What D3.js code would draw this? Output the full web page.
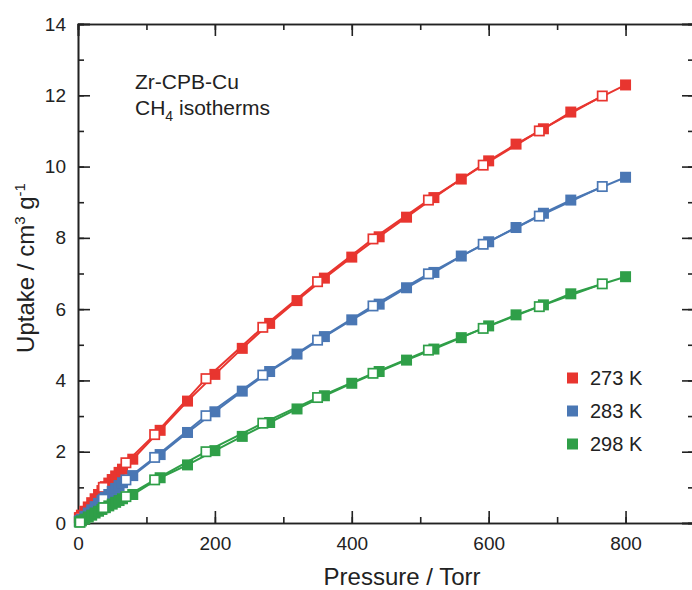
<!DOCTYPE html>
<html lang="en">
<head>
  <meta charset="utf-8">
  <title>Zr-CPB-Cu CH4 isotherms</title>
  <script src="https://d3js.org/d3.v7.min.js"></script>
  <style>
    body { margin: 0; background: #fff; }
    text { font-family: "Liberation Sans", Arial, sans-serif; fill: #222; }
  </style>
</head>
<body>
  <div id="chart"></div>
  <script>
    // Adsorption (filled squares): pressure in Torr, uptake in cm3/g
    var adsP = [2, 5, 10, 15, 20, 25, 30, 35, 40, 45, 50, 55, 60, 65, 80, 120, 160, 200, 240, 280,
                320, 360, 400, 440, 480, 520, 560, 600, 640, 680, 720, 800];
    var ads273 = [0.15, 0.22, 0.33, 0.45, 0.57, 0.68, 0.80, 0.91, 1.02, 1.12, 1.22, 1.32, 1.42, 1.51, 1.79, 2.60, 3.42, 4.17, 4.90, 5.60,
                  6.24, 6.87, 7.46, 8.03, 8.58, 9.13, 9.65, 10.16, 10.63, 11.06, 11.53, 12.29];
    var ads283 = [0.05, 0.10, 0.19, 0.28, 0.37, 0.46, 0.55, 0.63, 0.72, 0.80, 0.89, 0.97, 1.05, 1.13, 1.33, 1.92, 2.54, 3.12, 3.70, 4.25,
                  4.74, 5.23, 5.70, 6.14, 6.60, 7.03, 7.49, 7.89, 8.29, 8.69, 9.06, 9.70];
    var ads298 = [0.03, 0.06, 0.11, 0.17, 0.22, 0.28, 0.33, 0.38, 0.43, 0.48, 0.53, 0.58, 0.63, 0.68, 0.80, 1.27, 1.63, 2.03, 2.43, 2.82,
                  3.20, 3.57, 3.92, 4.25, 4.57, 4.88, 5.20, 5.53, 5.84, 6.12, 6.43, 6.91];

    // Desorption (open squares)
    var desP = [3, 37, 70, 112, 187, 270, 350, 431, 512, 592, 674, 766];
    var des273 = [0.15, 1.00, 1.69, 2.48, 4.05, 5.49, 6.77, 7.97, 9.06, 10.04, 11.00, 11.98];
    var des283 = [0.07, 0.67, 1.21, 1.84, 3.01, 4.15, 5.13, 6.09, 6.99, 7.82, 8.61, 9.44];
    var des298 = [0.02, 0.43, 0.74, 1.21, 2.00, 2.80, 3.52, 4.20, 4.85, 5.46, 6.07, 6.71];

    var seriesNames = ["273 K", "283 K", "298 K"];
    var colors = ["#e8352f", "#4a77b4", "#2f9f48"];
    var xTicks = [0, 200, 400, 600, 800];
    var yTicks = [0, 2, 4, 6, 8, 10, 12, 14];

    var series = [
      {name: seriesNames[0], ads: ads273, des: des273},
      {name: seriesNames[1], ads: ads283, des: des283},
      {name: seriesNames[2], ads: ads298, des: des298}
    ];

    var margin = {top: 24, left: 78},
        width = 616,
        height = 499;

    var svg = d3.select("#chart")
      .append("svg")
      .attr("width", 692)
      .attr("height", 590);

    var g = svg.append("g")
      .attr("transform", "translate(" + margin.left + "," + margin.top + ")");

    var x = d3.scaleLinear().domain([0, 900]).range([0, width]);
    var y = d3.scaleLinear().domain([0, 14]).range([height, 0]);

    function styleAxis(sel) {
      sel.select(".domain").attr("stroke", "#222").attr("stroke-width", 1.6);
      sel.selectAll(".tick line").attr("stroke", "#222").attr("stroke-width", 1.6);
      sel.selectAll("text").attr("font-size", 19).attr("fill", "#222")
        .style("font-family", "'Liberation Sans', Arial, sans-serif");
    }

    var xMinor = d3.range(0, 901, 100);
    var yMinor = d3.range(0, 14.01, 1);

    // minor ticks on all four sides
    g.append("g").attr("transform", "translate(0," + height + ")")
      .call(d3.axisBottom(x).tickValues(xMinor).tickSize(-6).tickFormat(""))
      .call(styleAxis);
    g.append("g")
      .call(d3.axisTop(x).tickValues(xMinor).tickSize(-6).tickFormat(""))
      .call(styleAxis);
    g.append("g")
      .call(d3.axisLeft(y).tickValues(yMinor).tickSize(-6).tickFormat(""))
      .call(styleAxis);
    g.append("g").attr("transform", "translate(" + width + ",0)")
      .call(d3.axisRight(y).tickValues(yMinor).tickSize(-6).tickFormat(""))
      .call(styleAxis);

    // major ticks with labels
    g.append("g").attr("transform", "translate(0," + height + ")")
      .call(d3.axisBottom(x).tickValues(xTicks).tickSize(-12).tickPadding(14).tickFormat(d3.format("d")))
      .call(styleAxis);
    g.append("g")
      .call(d3.axisTop(x).tickValues(xTicks).tickSize(-12).tickFormat(""))
      .call(styleAxis);
    g.append("g")
      .call(d3.axisLeft(y).tickValues(yTicks).tickSize(-12).tickPadding(12).tickFormat(d3.format("d")))
      .call(styleAxis);
    g.append("g").attr("transform", "translate(" + width + ",0)")
      .call(d3.axisRight(y).tickValues(yTicks).tickSize(-12).tickFormat(""))
      .call(styleAxis);

    var line = d3.line()
      .x(function(d) { return x(d[0]); })
      .y(function(d) { return y(d[1]); });

    var sq = 11, sw = 1.7;

    series.forEach(function(s, i) {
      var ads = adsP.map(function(p, j) { return [p, s.ads[j]]; });
      var des = desP.map(function(p, j) { return [p, s.des[j]]; });

      g.append("path").datum(ads)
        .attr("d", line).attr("fill", "none")
        .attr("stroke", colors[i]).attr("stroke-width", 2);
      g.append("path").datum(des)
        .attr("d", line).attr("fill", "none")
        .attr("stroke", colors[i]).attr("stroke-width", 2);

      g.append("g").selectAll("rect").data(ads).enter().append("rect")
        .attr("x", function(d) { return x(d[0]) - sq / 2; })
        .attr("y", function(d) { return y(d[1]) - sq / 2; })
        .attr("width", sq).attr("height", sq)
        .attr("fill", colors[i]);

      g.append("g").selectAll("rect").data(des).enter().append("rect")
        .attr("x", function(d) { return x(d[0]) - (sq - sw) / 2; })
        .attr("y", function(d) { return y(d[1]) - (sq - sw) / 2; })
        .attr("width", sq - sw).attr("height", sq - sw)
        .attr("fill", "#fff")
        .attr("stroke", colors[i]).attr("stroke-width", sw);
    });

    // legend
    var legend = svg.append("g");
    seriesNames.forEach(function(name, i) {
      var ly = 378 + i * 33;
      legend.append("rect")
        .attr("x", 567).attr("y", ly - 5.5)
        .attr("width", 11).attr("height", 11)
        .attr("fill", colors[i]);
      legend.append("text")
        .attr("x", 590).attr("y", ly)
        .attr("dy", "0.36em")
        .attr("font-size", 20)
        .text(name);
    });

    // annotation
    svg.append("text")
      .attr("x", 135).attr("y", 89)
      .attr("font-size", 21)
      .text("Zr-CPB-Cu");
    var t2 = svg.append("text")
      .attr("x", 135).attr("y", 115)
      .attr("font-size", 21);
    t2.append("tspan").text("CH");
    t2.append("tspan").attr("font-size", 14).attr("dy", 6).text("4");
    t2.append("tspan").attr("dy", -6).text(" isotherms");

    // axis titles
    svg.append("text")
      .attr("x", 402).attr("y", 585)
      .attr("text-anchor", "middle")
      .attr("font-size", 24)
      .text("Pressure / Torr");

    var yt = svg.append("text")
      .attr("transform", "translate(34,268) rotate(-90)")
      .attr("text-anchor", "middle")
      .attr("font-size", 24);
    yt.append("tspan").text("Uptake / cm");
    yt.append("tspan").attr("font-size", 15).attr("dy", -9).text("3");
    yt.append("tspan").attr("dy", 9).text(" g");
    yt.append("tspan").attr("font-size", 15).attr("dy", -9).text("-1");
  </script>
</body>
</html>
